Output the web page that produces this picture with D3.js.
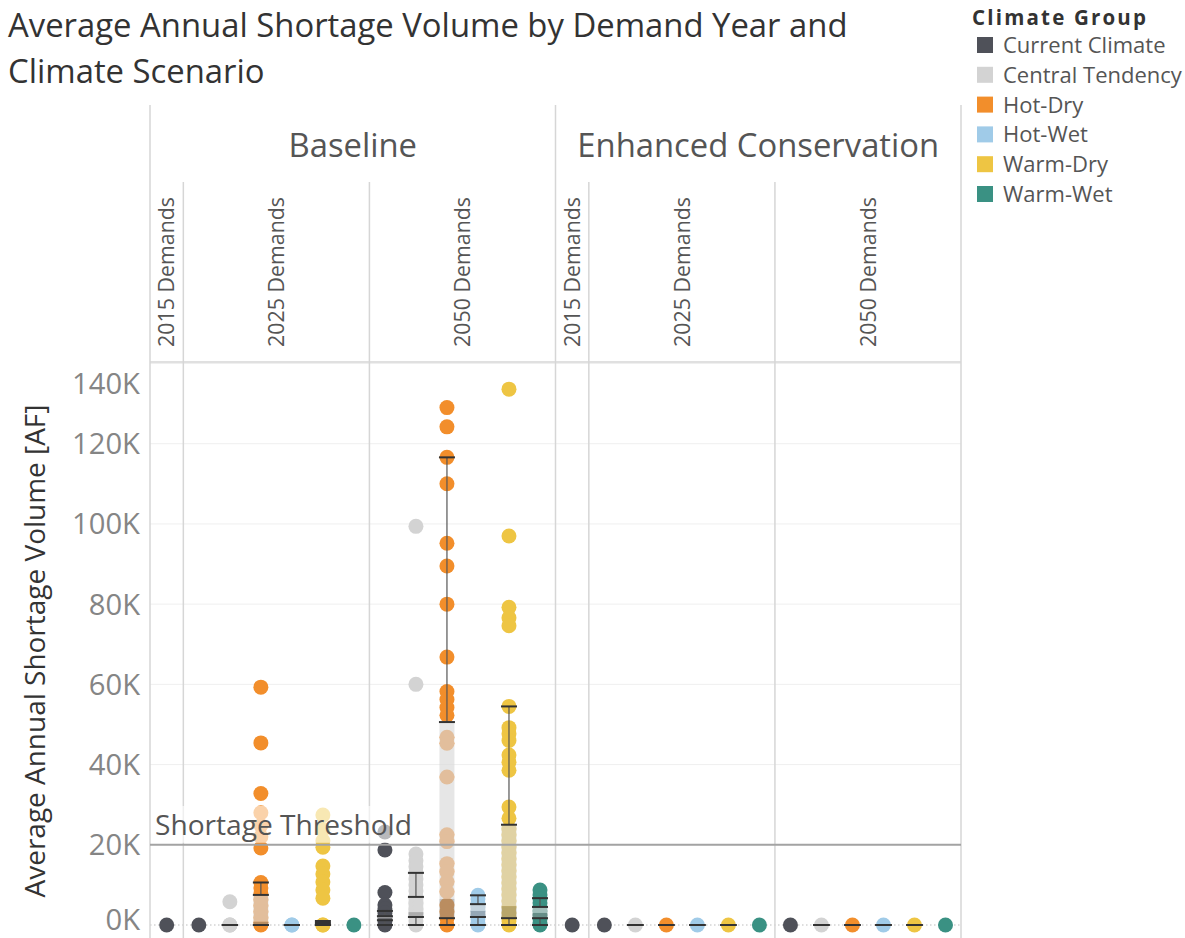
<!DOCTYPE html>
<html>
<head>
<meta charset="utf-8">
<script src="https://cdn.jsdelivr.net/npm/d3@7"></script>
<style>
  body { margin: 0; background: #fff; }
  svg { display: block; font-family: "Open Sans", "Noto Sans", sans-serif; }
</style>
</head>
<body>
<svg id="chart" width="1185" height="938"></svg>
<script>
// ---- categories -------------------------------------------------------
const scenarios = ["Baseline", "Enhanced Conservation"];
const demandYears = ["2015 Demands", "2025 Demands", "2050 Demands"];
const climateGroups = ["Current Climate", "Central Tendency", "Hot-Dry", "Hot-Wet", "Warm-Dry", "Warm-Wet"];
const climateColors = ["#4f5159", "#d3d3d3", "#f28e2b", "#a0cbe8", "#eec543", "#3a9183"];
const yTicks = [0, 20000, 40000, 60000, 80000, 100000, 120000, 140000];
const shortageThreshold = 20000;

// ---- average annual shortage volume [AF], one list per climate group ----
// 2015 demands are run for the current climate only
const baseline2015 = [[0]];
const baseline2025 = [
  [0],
  [0, 0, 0, 5800],
  [59300, 45400, 32800, 28000, 24800, 22000, 19200, 10600, 9200, 7800, 6300, 4800, 3300, 1800, 700, 0],
  [0, 0],
  [27400, 23800, 21000, 19400, 14700, 12700, 10700, 8700, 6700, 0, 0],
  [0]
];
const baseline2050 = [
  [23200, 18700, 8100, 5000, 4000, 3000, 2000, 1000, 0],
  [99400, 60000, 17700, 16000, 14500, 13000, 11500, 10000, 8500, 7000, 5500, 4000, 3000, 2000, 1000, 0],
  [129000, 124200, 116600, 110000, 95200, 89500, 80000, 66800, 58200, 56200, 54200, 52300,
   46800, 45300, 36900, 22500, 20800, 15300, 13300, 10800, 8300, 5000, 3300, 1700, 0],
  [7400, 6500, 5500, 4500, 3500, 2500, 1500, 500, 0],
  [133600, 97000, 79200, 76600, 74600, 54500, 49200, 47700, 46000, 42400, 40600, 38600, 29400, 26600,
   24000, 22500, 21000, 19500, 18000, 16500, 15000, 13500, 12000, 10500, 9000, 7500, 6000, 4500, 3000, 2000, 1000, 0],
  [8700, 7500, 6500, 5500, 4500, 3500, 2500, 1500, 500, 0]
];
const conservation2015 = [[0]];
const conservation2025 = [[0], [0], [0], [0], [0], [0]];
const conservation2050 = [[0], [0], [0], [0], [0], [0]];

// ---- box plot statistics [whisker low, Q1, median, Q3, whisker high] ----
const baseline2015Boxes = [null];
const baseline2025Boxes = [
  null,
  [0, 0, 0, 0, 0],
  [0, 0, 800, 7500, 10600],
  [0, 0, 0, 0, 0],
  [0, 0, 0, 500, 1000],
  null
];
const baseline2050Boxes = [
  [0, 1200, 1700, 2200, 3500],
  [0, 2000, 3200, 7000, 13000],
  [0, 1700, 6500, 50600, 116600],
  [0, 2000, 3500, 5200, 7400],
  [0, 1700, 4700, 25000, 54500],
  [0, 1700, 3000, 4500, 6700]
];
const conservation2015Boxes = [null];
const conservation2025Boxes = [null, [0, 0, 0, 0, 0], [0, 0, 0, 0, 0], [0, 0, 0, 0, 0], [0, 0, 0, 0, 0], null];
const conservation2050Boxes = [null, [0, 0, 0, 0, 0], [0, 0, 0, 0, 0], [0, 0, 0, 0, 0], [0, 0, 0, 0, 0], null];

const panelValues = [
  [baseline2015, baseline2025, baseline2050],
  [conservation2015, conservation2025, conservation2050]
];
const panelBoxes = [
  [baseline2015Boxes, baseline2025Boxes, baseline2050Boxes],
  [conservation2015Boxes, conservation2025Boxes, conservation2050Boxes]
];

// ---- layout -----------------------------------------------------------
const svg = d3.select("#chart");
const paneLeft = 150, paneRight = 961, paneTop = 362, paneBottom = 938;
const headerTop = 105, subHeaderTop = 182;
const gridColor = "#d6d6d6";
const dotR = 7.5, boxW = 15, capW = 16;

const color = d3.scaleOrdinal().domain(climateGroups).range(climateColors);
const y = d3.scaleLinear().domain([0, 140000]).range([925, 363.5]);
const xScenario = d3.scaleBand().domain(scenarios).range([paneLeft, paneRight]);

// within a scenario, the 2015 column holds one slot and the others six
const columnWeights = [1.075, 6, 6];
function columnExtent(si, di) {
  const x0 = xScenario(scenarios[si]);
  const unit = xScenario.bandwidth() / d3.sum(columnWeights);
  const start = x0 + unit * d3.sum(columnWeights.slice(0, di));
  return [start, start + unit * columnWeights[di]];
}
function slotScale(si, di) {
  const [a, b] = columnExtent(si, di);
  const groups = di === 0 ? [climateGroups[0]] : climateGroups;
  return d3.scaleBand().domain(groups).range([a, b]);
}

function fitWidth(sel, target) {
  const w = sel.node().getComputedTextLength();
  const fs = parseFloat(sel.attr("font-size"));
  sel.attr("font-size", (fs * target / w).toFixed(2));
  return fs * target / w;
}

// ---- title ------------------------------------------------------------
const t1 = svg.append("text").attr("x", 8).attr("y", 37).attr("font-size", 28)
  .attr("fill", "#333").text("Average Annual Shortage Volume by Demand Year and");
const titleSize = fitWidth(t1, 840);
svg.append("text").attr("x", 8).attr("y", 83).attr("font-size", titleSize)
  .attr("fill", "#333").text("Climate Scenario");

// ---- horizontal gridlines ---------------------------------------------
const grid = svg.append("g");
grid.selectAll("line.grid").data(yTicks.filter(d => d > 0)).join("line")
  .attr("x1", paneLeft).attr("x2", paneRight)
  .attr("y1", d => y(d)).attr("y2", d => y(d))
  .attr("stroke", "#efefef").attr("stroke-width", 1);
grid.append("line")
  .attr("x1", paneLeft).attr("x2", paneRight).attr("y1", y(0)).attr("y2", y(0))
  .attr("stroke", "#bdbdbd").attr("stroke-width", 1.2).attr("stroke-dasharray", "1.5,2.5");

// ---- pane and header rules --------------------------------------------
const rules = svg.append("g").attr("stroke", gridColor).attr("stroke-width", 1.5);
[paneLeft, xScenario(scenarios[1]), paneRight].forEach(x => {
  rules.append("line").attr("x1", x).attr("x2", x).attr("y1", headerTop).attr("y2", paneBottom);
});
scenarios.forEach((s, si) => {
  [1, 2].forEach(di => {
    const x = columnExtent(si, di)[0];
    rules.append("line").attr("x1", x).attr("x2", x).attr("y1", subHeaderTop).attr("y2", paneBottom);
  });
});
rules.append("line").attr("x1", paneLeft).attr("x2", paneRight).attr("y1", paneTop).attr("y2", paneTop);

// ---- scenario headers ---------------------------------------------------
const headerSel = svg.append("g").selectAll("text").data(scenarios).join("text")
  .attr("x", d => xScenario(d) + xScenario.bandwidth() / 2)
  .attr("y", 157).attr("text-anchor", "middle")
  .attr("font-size", 30).attr("fill", "#555").text(d => d);
const headerSize = fitWidth(d3.select(headerSel.nodes()[1]), 362);
headerSel.attr("font-size", headerSize);

// ---- demand year headers (rotated) --------------------------------------
const subHeads = [];
scenarios.forEach((s, si) => demandYears.forEach((d, di) => {
  const [a, b] = columnExtent(si, di);
  subHeads.push({ label: d, x: (a + b) / 2 });
}));
const subSel = svg.append("g").selectAll("text").data(subHeads).join("text")
  .attr("transform", d => `translate(${d.x},197) rotate(-90)`)
  .attr("text-anchor", "end").attr("dy", "0.36em")
  .attr("font-size", 20).attr("fill", "#555").text(d => d.label);
const subSize = fitWidth(d3.select(subSel.nodes()[0]), 150);
subSel.attr("font-size", subSize);

// ---- y axis -------------------------------------------------------------
// labels at the ends of the axis are kept inside the pane
const tickSel = svg.append("g").selectAll("text").data(yTicks).join("text")
  .attr("x", 140)
  .attr("y", d => Math.min(Math.max(y(d), paneTop + 21), paneBottom - 19))
  .attr("dy", "0.36em").attr("text-anchor", "end")
  .attr("font-size", 24).attr("fill", "#858585")
  .text(d => d3.format("d")(d / 1000) + "K");
const tickSize = fitWidth(d3.select(tickSel.nodes()[5]), 68);
tickSel.attr("font-size", tickSize);

const yTitle = svg.append("text")
  .attr("transform", "translate(35,651) rotate(-90)")
  .attr("text-anchor", "middle").attr("dy", "0.36em")
  .attr("font-size", 24).attr("fill", "#333")
  .text("Average Annual Shortage Volume [AF]");
fitWidth(yTitle, 493);

// ---- dots ---------------------------------------------------------------
const dotData = [];
const boxData = [];
scenarios.forEach((s, si) => demandYears.forEach((d, di) => {
  const slots = slotScale(si, di);
  slots.domain().forEach((g, gi) => {
    const cx = slots(g) + slots.bandwidth() / 2;
    panelValues[si][di][gi].forEach(v => dotData.push({ group: g, cx, v }));
    const b = panelBoxes[si][di][gi];
    if (b) boxData.push({ cx, b });
  });
}));

svg.append("g").selectAll("circle").data(dotData).join("circle")
  .attr("cx", d => d.cx).attr("cy", d => y(d.v)).attr("r", dotR)
  .attr("fill", d => color(d.group));

// ---- box plots ------------------------------------------------------------
const boxes = svg.append("g").selectAll("g").data(boxData).join("g");
boxes.append("rect")
  .attr("x", d => d.cx - boxW / 2).attr("width", boxW)
  .attr("y", d => y(d.b[3])).attr("height", d => y(d.b[2]) - y(d.b[3]))
  .attr("fill", "#d9d9d9").attr("fill-opacity", 0.65);
boxes.append("rect")
  .attr("x", d => d.cx - boxW / 2).attr("width", boxW)
  .attr("y", d => y(d.b[2])).attr("height", d => y(d.b[1]) - y(d.b[2]))
  .attr("fill", "#8c8c8c").attr("fill-opacity", 0.55);
boxes.append("line")
  .attr("x1", d => d.cx).attr("x2", d => d.cx)
  .attr("y1", d => y(d.b[3])).attr("y2", d => y(d.b[4]))
  .attr("stroke", "#555").attr("stroke-width", 1.2);
boxes.append("line")
  .attr("x1", d => d.cx).attr("x2", d => d.cx)
  .attr("y1", d => y(d.b[0])).attr("y2", d => y(d.b[1]))
  .attr("stroke", "#555").attr("stroke-width", 1.2);
boxes.selectAll("line.cap").data(d => [0, 1, 3, 4].map(i => ({ cx: d.cx, v: d.b[i] }))).join("line")
  .attr("class", "cap")
  .attr("x1", d => d.cx - capW / 2).attr("x2", d => d.cx + capW / 2)
  .attr("y1", d => y(d.v)).attr("y2", d => y(d.v))
  .attr("stroke", "#333").attr("stroke-width", 2);

// ---- shortage threshold reference line -----------------------------------
svg.append("line")
  .attr("x1", paneLeft).attr("x2", paneRight)
  .attr("y1", y(shortageThreshold)).attr("y2", y(shortageThreshold))
  .attr("stroke", "#a3a3a3").attr("stroke-width", 2);
const labelG = svg.append("g");
const labelBg = labelG.append("rect").attr("fill", "#fff").attr("fill-opacity", 0.6);
const thr = labelG.append("text").attr("x", 155).attr("y", 835)
  .attr("font-size", 26).attr("fill", "#555").text("Shortage Threshold");
fitWidth(thr, 257);
const bb = thr.node().getBBox();
labelBg.attr("x", paneLeft + 1).attr("y", 806)
  .attr("width", bb.x + bb.width + 4 - paneLeft).attr("height", y(shortageThreshold) - 2 - 806);

// ---- legend -----------------------------------------------------------------
const legend = svg.append("g");
legend.append("text").attr("x", 972).attr("y", 25)
  .attr("font-size", 20.5).attr("font-weight", 700).attr("fill", "#333")
  .attr("textLength", 174).attr("lengthAdjust", "spacing")
  .text("Climate Group");
const items = legend.selectAll("g.item").data(climateGroups).join("g").attr("class", "item")
  .attr("transform", (d, i) => `translate(977,${45 + i * 29.8})`);
items.append("rect").attr("x", 0).attr("y", -8).attr("width", 16).attr("height", 16)
  .attr("fill", d => color(d));
const itemText = items.append("text").attr("x", 26).attr("dy", "0.36em")
  .attr("font-size", 20).attr("fill", "#555").text(d => d);
const legSize = fitWidth(d3.select(itemText.nodes()[1]), 179);
itemText.attr("font-size", legSize);
</script>
</body>
</html>
